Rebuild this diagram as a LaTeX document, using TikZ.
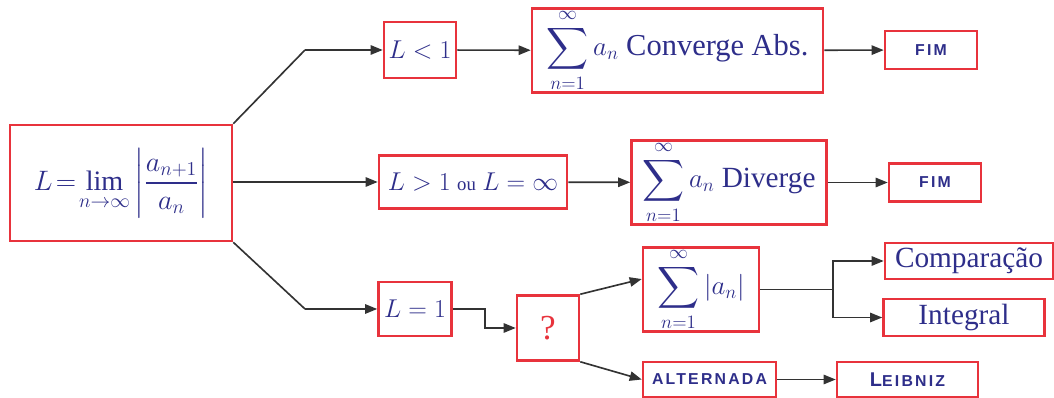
\RequirePackage{fix-cm}
\documentclass[tikz,border=0pt]{standalone}
\usepackage{amsmath}
\usepackage{exscale}
\usepackage{fontspec}
\setmainfont{Liberation Serif}
\newfontfamily\capsfont[LetterSpace=14]{Liberation Sans}
\usetikzlibrary{arrows.meta, positioning}
\definecolor{flowRed}{HTML}{E8333C}
\definecolor{flowInk}{HTML}{2E2E8A}
\definecolor{flowLine}{HTML}{333333}
\newcommand{\sumfont}{\fontsize{23}{27}\selectfont}

\begin{document}
\begin{tikzpicture}[x=0.3mm, y=-0.3mm,
    box/.style={draw=flowRed, line width=2.2pt, fill=white, text=flowInk, align=center, inner sep=2pt, font=\fontsize{22}{26}\selectfont},
    tag/.style={box, font=\capsfont\bfseries\fontsize{13.5}{15}\selectfont},
    arr/.style={-{Triangle[length=3.6mm, width=2.8mm]}, flowLine, line width=1.4pt},
    lin/.style={flowLine, line width=1.4pt}]
  \useasboundingbox (0,0) rectangle (1054,398);
  % test de la razao
  \node[box, minimum width=66.6mm, minimum height=34.8mm, font=\fontsize{24}{28}\selectfont] (ratio) at (121,183)
    {$\displaystyle L\!=\!\lim_{n\to\infty}\left|\frac{a_{n+1}}{a_n}\right|$};
  % L < 1
  \node[box, minimum width=21.6mm, minimum height=16.8mm] (less) at (420,50) {$L<1$};
  \node[box, minimum width=87.3mm, minimum height=24.3mm, inner ysep=0pt, font=\fontsize{26}{30}\selectfont] (conv) at (677.5,50.5)
    {{\sumfont$\displaystyle\sum_{n=1}^{\infty}a_n$} Converge Abs.};
  \node[tag, minimum width=27.6mm, minimum height=11.4mm] (fimA) at (931,50) {FIM};
  % L > 1
  \node[box, minimum width=56.4mm, minimum height=15.9mm] (more) at (473,182)
    {$L>1$ {\fontsize{16}{18}\selectfont ou} $L=\infty$};
  \node[box, minimum width=58.5mm, minimum height=24.9mm, inner ysep=0pt, font=\fontsize{25}{29}\selectfont] (div) at (729,182.5)
    {{\sumfont$\displaystyle\sum_{n=1}^{\infty}a_n$} Diverge};
  \node[tag, minimum width=27.6mm, minimum height=11.4mm] (fimB) at (935,182.5) {FIM};
  % L = 1
  \node[box, minimum width=21.9mm, minimum height=16.2mm] (equal) at (415,309) {$L=1$};
  \node[box, minimum width=18.6mm, minimum height=19.5mm, text=flowRed, font=\fontsize{30}{34}\selectfont] (what) at (548,328) {?};
  \node[box, minimum width=34.8mm, minimum height=24.9mm, inner ysep=0pt, font=\sumfont] (abs) at (701,289.5)
    {$\displaystyle\sum_{n=1}^{\infty}\left|a_n\right|$};
  \node[box, minimum width=50.4mm, minimum height=10.8mm, font=\fontsize{25}{28}\selectfont] (comp) at (969,261) {Comparação};
  \node[box, minimum width=48.3mm, minimum height=11.1mm, font=\fontsize{25}{28}\selectfont] (integ) at (964,317.5) {Integral};
  \node[tag, minimum width=39.9mm, minimum height=10.5mm] (alt) at (709.5,379.5) {ALTERNADA};
  \node[tag, minimum width=42.3mm, minimum height=10.5mm] (leib) at (907.5,379.5) {{\fontsize{17}{15}\selectfont L}EIBNIZ};
  % ramos
  \coordinate (upper) at (305,50);
  \coordinate (lower) at (305,309);
  \coordinate (split) at (833,289.5);
  \draw[lin] (ratio.north east) -- (upper);
  \draw[arr] (upper) -- (less);
  \draw[arr] (ratio.east |- more) -- (more);
  \draw[lin] (ratio.south east) -- (lower);
  \draw[arr] (lower) -- (equal);
  \draw[arr] (less) -- (conv);
  \draw[arr] (conv) -- (fimA);
  \draw[arr] (more) -- (div);
  \draw[arr] (div) -- (fimB);
  \draw[arr] (equal.east) -- ++(32,0) |- (what.west);
  \draw[arr] (what.north east) -- (abs.170);
  \draw[arr] (what.south east) -- (alt.west);
  \draw[lin] (abs) -- (split);
  \draw[arr] (split) |- (comp);
  \draw[arr] (split) |- (integ);
  \draw[arr] (alt) -- (leib);
\end{tikzpicture}
\end{document}
